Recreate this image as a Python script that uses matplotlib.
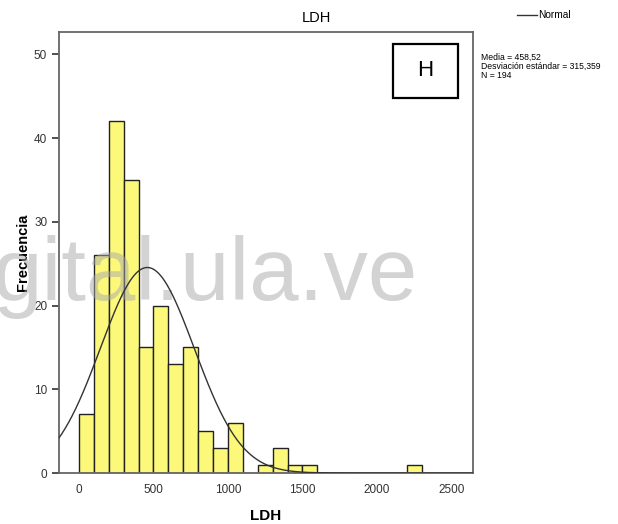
import matplotlib.pyplot as plt
from matplotlib.patches import Rectangle
import numpy as np

plt.rcParams["font.family"] = ["Liberation Sans", "DejaVu Sans"]

# histogram of LDH, bins of width 100 starting at 0
bin_edges = np.arange(0, 2400, 100)
counts = [7, 26, 42, 35, 15, 20, 13, 15, 5, 3, 6, 0,
          1, 3, 1, 1, 0, 0, 0, 0, 0, 0, 1]

mean = 458.52
std = 315.359
n = 194
bin_width = 100

y_ticks = [0, 10, 20, 30, 40, 50]
x_ticks = [0, 500, 1000, 1500, 2000, 2500]

fig = plt.figure(figsize=(6.18, 5.24), dpi=100)
ax = fig.add_axes([0.0955, 0.0973, 0.670, 0.8416])

ax.bar(bin_edges[:-1], counts, width=bin_width, align="edge",
       color="#fbf87a", edgecolor="#222222", linewidth=1.0, zorder=2)

# fitted normal curve, scaled to counts
xs = np.linspace(-134, 2645, 600)
pdf = np.exp(-0.5 * ((xs - mean) / std) ** 2) / (std * np.sqrt(2 * np.pi))
ax.plot(xs, pdf * n * bin_width, color="#333333", linewidth=1.0, zorder=3)

ax.set_xlim(-134, 2645)
ax.set_ylim(0, 52.66)
ax.set_xticks(x_ticks)
ax.set_yticks(y_ticks)
ax.tick_params(labelsize=8.5, colors="#333333", length=5, width=1.2, direction="out")
ax.tick_params(axis="x", length=0, pad=8)
for s in ax.spines.values():
    s.set_color("#666666")
    s.set_linewidth(1.3)

ax.set_xlabel("LDH", fontsize=11, fontweight="bold", labelpad=9)
ax.set_ylabel("Frecuencia", fontsize=10.5, fontweight="bold", labelpad=3)
fig.text(316 / 618, 1 - 18 / 524, "LDH", fontsize=10.5, ha="center", va="center")

# panel letter box
ax.add_patch(Rectangle((0.807, 0.850), 0.157, 0.1224, transform=ax.transAxes,
                       facecolor="white", edgecolor="black", linewidth=1.6, zorder=4))
ax.text(0.885, 0.912, "H", transform=ax.transAxes, fontsize=16,
        ha="center", va="center", zorder=5)

# legend and statistics at right
fig.add_artist(plt.Line2D([517 / 618, 537 / 618], [1 - 15 / 524, 1 - 15 / 524],
                          color="#333333", linewidth=1.0))
fig.text(538 / 618, 1 - 15 / 524, "Normal", fontsize=7.3, va="center")
fig.text(481 / 618, 1 - 53 / 524,
         "Media = 458,52\nDesviación estándar = 315,359\nN = 194",
         fontsize=6.2, va="top", linespacing=1.0)

# watermark: over the bars, under the curve and axis texts
ax.text(-8 / 618, 1 - 300 / 524, "gital.ula.ve", fontsize=64,
        transform=fig.transFigure, clip_on=False,
        color="#a8a8a8", alpha=0.5, va="baseline", ha="left", zorder=2.2)

fig.savefig("out.png", dpi=100)
